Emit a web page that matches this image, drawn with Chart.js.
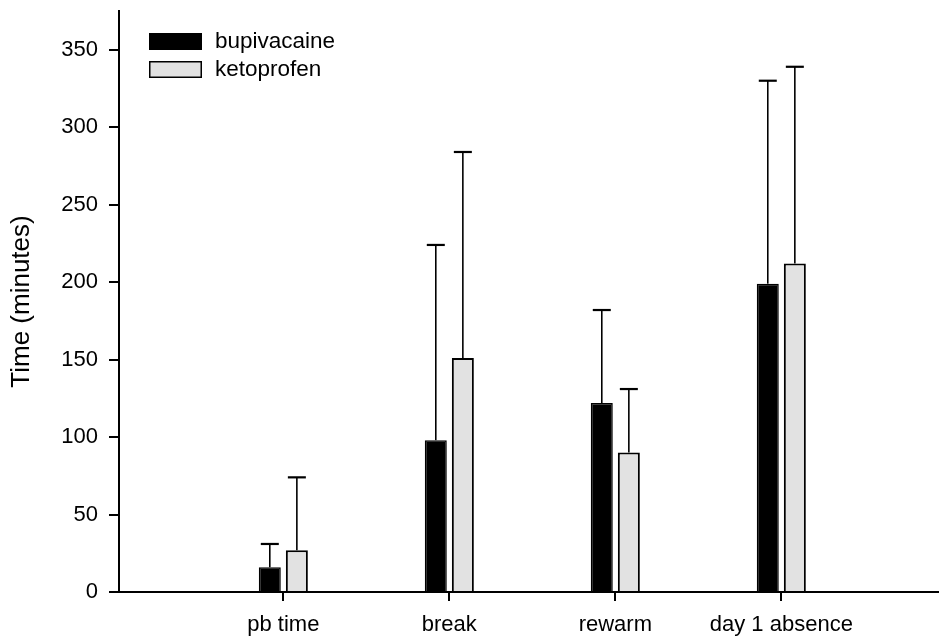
<!DOCTYPE html>
<html lang="en">
<head>
    <meta charset="UTF-8">
    <title>Time by treatment</title>
    <script src="https://cdn.jsdelivr.net/npm/chart.js"></script>
    <style>
        html, body { margin: 0; padding: 0; background: #fff; }
        #wrap { width: 939px; height: 638px; }
    </style>
</head>
<body>
    <div id="wrap"><canvas id="times"></canvas></div>
<script>
    // category labels and their x positions on the axis
    const categories = ["pb time", "break", "rewarm", "day 1 absence"];
    const positions = [1, 2, 3, 4];

    // mean times (minutes) and upper SD
    const bupivacaine = [16, 98, 122, 199];
    const bupivacaineSD = [15, 126, 60, 131];
    const ketoprofen = [27, 151, 90, 212];
    const ketoprofenSD = [47, 133, 41, 127];

    const yTicks = [0, 50, 100, 150, 200, 250, 300, 350];

    Chart.defaults.font.family = "'Liberation Sans', Arial, sans-serif";
    Chart.defaults.color = "#000";

    function points(values) {
        return values.map((v, i) => ({ x: positions[i], y: v }));
    }

    // upward error bars with a cap
    const errorBars = {
        id: "errorBars",
        afterDatasetsDraw(chart) {
            const ctx = chart.ctx;
            const y = chart.scales.y;
            chart.data.datasets.forEach((ds, i) => {
                const meta = chart.getDatasetMeta(i);
                meta.data.forEach((bar, j) => {
                    const top = y.getPixelForValue(ds.data[j].y + ds.sd[j]);
                    ctx.save();
                    ctx.strokeStyle = "#000";
                    ctx.lineWidth = 1.6;
                    ctx.beginPath();
                    ctx.moveTo(bar.x, bar.y);
                    ctx.lineTo(bar.x, top);
                    ctx.stroke();
                    ctx.lineWidth = 2.2;
                    ctx.beginPath();
                    ctx.moveTo(bar.x - 9, top);
                    ctx.lineTo(bar.x + 9, top);
                    ctx.stroke();
                    ctx.restore();
                });
            });
        }
    };

    // legend drawn inside the plot, top left
    const boxLegend = {
        id: "boxLegend",
        afterDraw(chart) {
            const ctx = chart.ctx;
            ctx.save();
            chart.data.datasets.forEach((ds, i) => {
                const top = 33 + i * 28;
                ctx.fillStyle = ds.backgroundColor;
                ctx.fillRect(149, top, 53, 17);
                ctx.strokeStyle = "#000";
                ctx.lineWidth = 1.5;
                ctx.strokeRect(149.75, top + 0.75, 51.5, 15.5);
                ctx.fillStyle = "#000";
                ctx.font = "22.5px 'Liberation Sans', Arial, sans-serif";
                ctx.textBaseline = "middle";
                ctx.fillText(ds.label, 215, top + 9);
            });
            ctx.restore();
        }
    };

    new Chart(document.getElementById("times"), {
        type: "bar",
        data: {
            datasets: [
                {
                    label: "bupivacaine",
                    data: points(bupivacaine),
                    sd: bupivacaineSD,
                    backgroundColor: "#000",
                    borderColor: "#000",
                    borderWidth: 1.5
                },
                {
                    label: "ketoprofen",
                    data: points(ketoprofen),
                    sd: ketoprofenSD,
                    backgroundColor: "#e2e2e2",
                    borderColor: "#000",
                    borderWidth: 2
                }
            ]
        },
        options: {
            responsive: true,
            maintainAspectRatio: false,
            animation: false,
            categoryPercentage: 0.326,
            barPercentage: 0.9,
            maxBarThickness: 22,
            layout: { padding: 0 },
            plugins: {
                legend: { display: false },
                tooltip: { enabled: false }
            },
            scales: {
                x: {
                    type: "linear",
                    offset: false,
                    min: 0.01,
                    max: 4.95,
                    afterBuildTicks: s => { s.ticks = positions.map(p => ({ value: p })); },
                    afterFit: s => { s.height = 46; },
                    ticks: {
                        font: { size: 22 },
                        padding: 11,
                        callback: v => categories[positions.indexOf(v)]
                    },
                    grid: { offset: false, drawOnChartArea: false, tickLength: 9, color: "#000", lineWidth: 2 },
                    border: { color: "#000", width: 2 }
                },
                y: {
                    min: 0,
                    max: 375,
                    afterBuildTicks: s => { s.ticks = yTicks.map(v => ({ value: v })); },
                    afterFit: s => { s.width = 119; s.paddingTop = 11; },
                    ticks: { font: { size: 22 }, padding: 11 },
                    grid: { drawOnChartArea: false, tickLength: 10, color: "#000", lineWidth: 2 },
                    border: { color: "#000", width: 2 },
                    title: {
                        display: true,
                        text: "Time (minutes)",
                        font: { size: 26 },
                        padding: { top: 6, bottom: 0 }
                    }
                }
            }
        },
        plugins: [errorBars, boxLegend]
    });
</script>
</body>
</html>
